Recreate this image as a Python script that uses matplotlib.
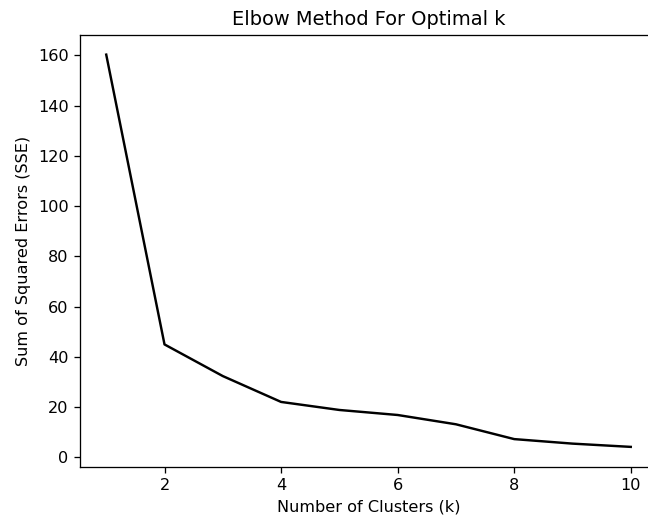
import matplotlib
matplotlib.use("Agg")
import matplotlib.pyplot as plt

k_values = [1, 2, 3, 4, 5, 6, 7, 8, 9, 10]
sse = [160.3, 44.9, 32.3, 22.0, 18.8, 16.8, 13.1, 7.2, 5.4, 4.1]

DPI = 116.5
fig = plt.figure(figsize=(648 / DPI, 517 / DPI), dpi=DPI)
ax = fig.add_axes([80 / 648, 1 - 466.5 / 517, 577 / 648, 431.5 / 517])
ax.plot(k_values, sse, color="black")
ax.set_title("Elbow Method For Optimal k")
ax.set_xlabel("Number of Clusters (k)")
ax.set_ylabel("Sum of Squared Errors (SSE)")
fig.savefig("out.png", dpi=DPI)
